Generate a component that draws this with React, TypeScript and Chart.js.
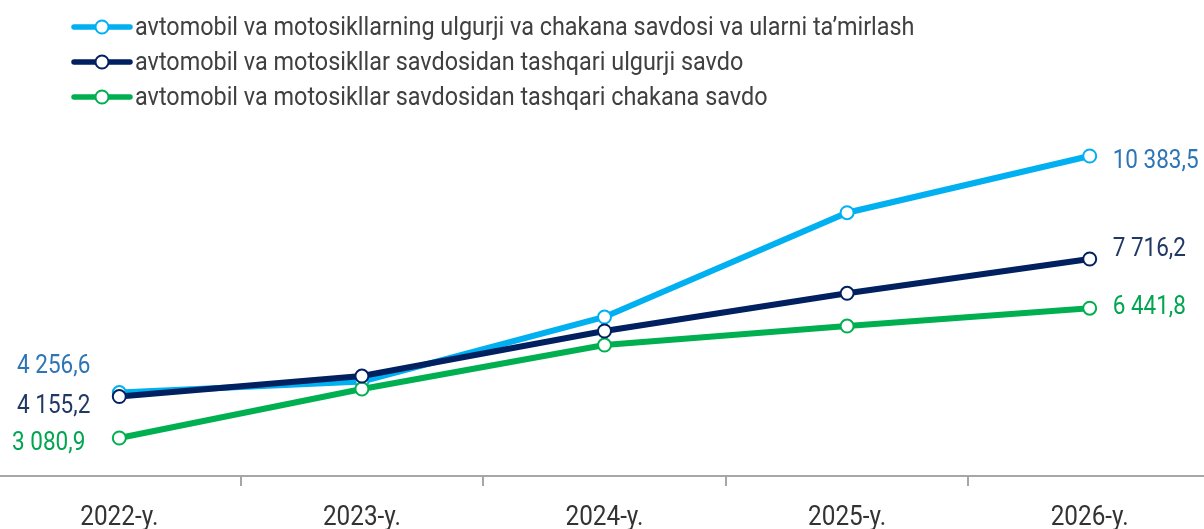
import React, { useEffect, useRef } from "react";
import { Chart, registerables } from "chart.js";

Chart.register(...registerables);

// ---- data ----
const categories = ["2022-y.", "2023-y.", "2024-y.", "2025-y.", "2026-y."];
const seriesNames = [
  "avtomobil va motosikllarning ulgurji va chakana savdosi va ularni ta’mirlash",
  "avtomobil va motosikllar savdosidan tashqari ulgurji savdo",
  "avtomobil va motosikllar savdosidan tashqari chakana savdo",
];
const motorTrade = [4256.6, 4544, 6214, 8915, 10383.5];
const wholesaleTrade = [4155.2, 4686, 5852, 6828, 7716.2];
const retailTrade = [3080.9, 4350, 5489, 5981, 6441.8];

// ---- styles ----
const lineColors = ["#00B0F0", "#002060", "#00B050"];
const labelColors = ["#2E75B6", "#1F3864", "#00A54F"];
const drawOrder = [2, 0, 1];
// label offsets relative to the first / last point: [dx, dy, align]
const firstLabelOffsets: [number, number, CanvasTextAlign][] = [
  [-29, -26, "right"],
  [-29, 10, "right"],
  [-34, 6, "right"],
];
const lastLabelOffsets: [number, number, CanvasTextAlign][] = [
  [23, 6, "left"],
  [23, -9, "left"],
  [23, 0, "left"],
];
const FONT = "Roboto, 'Noto Sans', sans-serif";
const SX = 0.9; // horizontal condensing of text
const Y_MIN = 2097;
const Y_MAX = 11057;

function fmt(v: number): string {
  const [i, d] = v.toFixed(1).split(".");
  return i.replace(/\B(?=(\d{3})+(?!\d))/g, " ") + "," + d;
}

function condensedText(
  ctx: CanvasRenderingContext2D,
  text: string,
  x: number,
  y: number,
  align: CanvasTextAlign,
  baseline: CanvasTextBaseline
) {
  ctx.save();
  ctx.translate(x, y);
  ctx.scale(SX, 1);
  ctx.textAlign = align;
  ctx.textBaseline = baseline;
  ctx.fillText(text, 0, 0);
  ctx.restore();
}

const customDraw = {
  id: "customDraw",
  afterDatasetsDraw(chart: any) {
    const ctx: CanvasRenderingContext2D = chart.ctx;
    const xScale = chart.scales.x;
    // x tick labels
    ctx.save();
    ctx.fillStyle = "#333333";
    ctx.font = `27px ${FONT}`;
    categories.forEach((c, i) => {
      condensedText(ctx, c, xScale.getPixelForValue(i), chart.height - 4, "center", "alphabetic");
    });
    ctx.restore();

    // value labels at first and last points
    chart.data.datasets.forEach((ds: any, di: number) => {
      const meta = chart.getDatasetMeta(di);
      const pts = meta.data;
      const n = pts.length;
      ctx.save();
      ctx.fillStyle = labelColors[di];
      ctx.font = `25px ${FONT}`;
      const f = firstLabelOffsets[di];
      condensedText(ctx, fmt(ds.data[0]), pts[0].x + f[0], pts[0].y + f[1], f[2], "middle");
      const l = lastLabelOffsets[di];
      condensedText(ctx, fmt(ds.data[n - 1]), pts[n - 1].x + l[0], pts[n - 1].y + l[1], l[2], "middle");
      ctx.restore();
    });

    // legend
    const rowY = [27, 62, 97];
    chart.data.datasets.forEach((ds: any, di: number) => {
      const y = rowY[di];
      const x0 = 76;
      const x1 = 132;
      ctx.save();
      ctx.strokeStyle = lineColors[di];
      ctx.lineWidth = 5.5;
      ctx.lineCap = "round";
      ctx.beginPath();
      ctx.moveTo(x0, y);
      ctx.lineTo(x1, y);
      ctx.stroke();
      ctx.beginPath();
      ctx.arc((x0 + x1) / 2, y, 6.5, 0, Math.PI * 2);
      ctx.fillStyle = "#ffffff";
      ctx.fill();
      ctx.lineWidth = 2;
      ctx.stroke();
      ctx.fillStyle = "#404040";
      ctx.font = `26px ${FONT}`;
      condensedText(ctx, ds.label, 137, y + 1, "left", "middle");
      ctx.restore();
    });
  },
};

export default function App() {
  const ref = useRef<HTMLCanvasElement | null>(null);
  useEffect(() => {
    document.body.style.overflow = "hidden";
    const series = [motorTrade, wholesaleTrade, retailTrade];
    const chart = new Chart(ref.current as HTMLCanvasElement, {
      type: "line",
      data: {
        labels: categories,
        datasets: series.map((d, i) => ({
          label: seriesNames[i],
          data: d,
          borderColor: lineColors[i],
          backgroundColor: lineColors[i],
          borderWidth: 6,
          pointRadius: 6.5,
          pointBorderWidth: 2,
          pointBackgroundColor: "#ffffff",
          pointBorderColor: lineColors[i],
          tension: 0,
          order: drawOrder[i],
          clip: false as any,
        })),
      },
      options: {
        responsive: false,
        animation: false,
        layout: { autoPadding: false, padding: { top: 130, bottom: 43, left: 0, right: 0 } },
        plugins: { legend: { display: false }, tooltip: { enabled: false } },
        scales: {
          x: {
            offset: true,
            grid: {
              offset: true,
              drawOnChartArea: false,
              drawTicks: true,
              tickLength: 10,
              color: "#a6a6a6",
              lineWidth: 2,
            },
            border: { display: true, color: "#a6a6a6", width: 2 },
            ticks: { display: false },
          },
          y: { display: false, min: Y_MIN, max: Y_MAX },
        },
      },
      plugins: [customDraw],
    });
    return () => chart.destroy();
  }, []);
  return (
    <div style={{ position: "absolute", left: -2, top: 0, width: 1213, height: 529 }}>
      <canvas ref={ref} width={1213} height={529} />
    </div>
  );
}
